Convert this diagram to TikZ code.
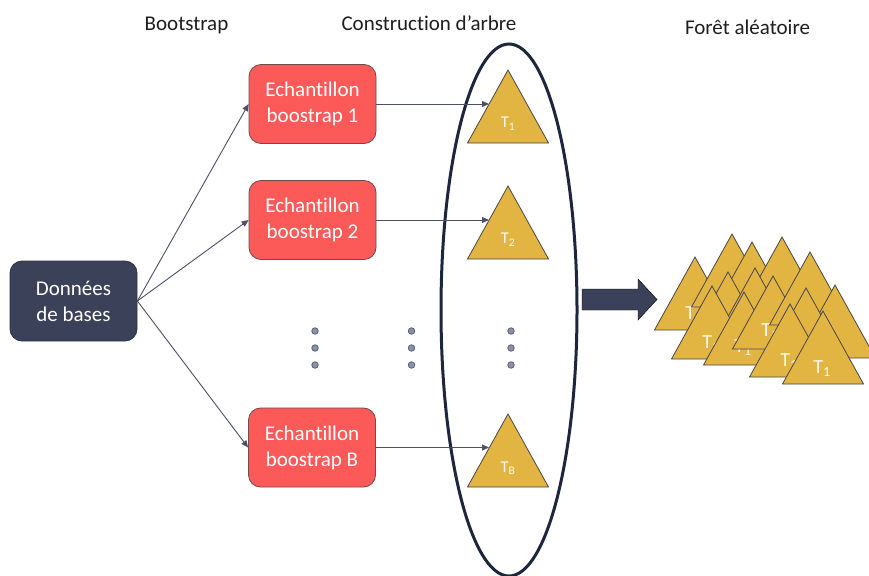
\documentclass[tikz,border=0pt]{standalone}
\usepackage{fontspec}
\setmainfont{Carlito}[Ligatures=NoCommon]
\usetikzlibrary{arrows.meta,calc}
\definecolor{navy}{RGB}{59,65,88}
\definecolor{boxred}{RGB}{251,90,88}
\definecolor{boxredline}{RGB}{115,72,78}
\definecolor{gold}{RGB}{226,180,66}
\definecolor{goldline}{RGB}{72,70,72}
\definecolor{arrowcol}{RGB}{75,80,105}
\definecolor{ellcol}{RGB}{30,38,62}
\definecolor{dotfill}{RGB}{140,145,170}
\definecolor{dotline}{RGB}{90,95,120}
\definecolor{titlecol}{RGB}{30,30,30}
\definecolor{labelcol}{RGB}{255,250,232}
\tikzset{
  databox/.style={draw=navy!80!black, line width=0.8pt, fill=navy, rounded corners=12pt,
    minimum width=127pt, minimum height=80pt, text=white, align=center,
    font=\fontsize{21}{26}\selectfont, inner sep=0pt},
  samplebox/.style={draw=boxredline, line width=0.8pt, fill=boxred, rounded corners=12pt,
    minimum width=127pt, minimum height=79pt, text=white, align=center,
    font=\fontsize{21}{26}\selectfont, inner sep=0pt},
  title/.style={text=titlecol, font=\fontsize{21}{25}\selectfont, anchor=base, inner sep=0pt},
  treestyle/.style={fill=gold, draw=goldline, line width=0.8pt, line join=miter},
  smalllabel/.style={text=labelcol, font=\fontsize{16.5}{20}\selectfont, inner sep=0pt},
  biglabel/.style={text=labelcol, font=\fontsize{20}{24}\selectfont, inner sep=0pt},
  conn/.style={draw=arrowcol, line width=0.9pt, -{Triangle[length=7pt,width=6pt]}},
  dotstyle/.style={circle, fill=dotfill, draw=dotline, line width=0.8pt, minimum size=6.5pt, inner sep=0pt},
  bigarrow/.style={fill=navy},
  ring/.style={draw=ellcol, line width=3pt}
}
\newcommand{\arbre}[3]{%
  \coordinate (#1) at (#2,#3);
  \filldraw[treestyle] (#1) -- ++(-40.5,73) -- ++(81,0) -- cycle;
}
\begin{document}
\begin{tikzpicture}[x=1pt,y=-1pt]
\useasboundingbox (0,0) rectangle (869,575);

% titles
\node[title] (hboot) at (186.5,31) {Bootstrap};
\node[title] (hcons) at (429,31) {Construction d’arbre};
\node[title] (hfor) at (747.5,35) {Forêt aléatoire};

% data box
\node[databox] (data) at (73.5,301) {Données\\de bases};

% sample boxes
\node[samplebox] (s1) at (312.5,104) {Echantillon\\boostrap 1};
\node[samplebox] (s2) at (312.5,220) {Echantillon\\boostrap 2};
\node[samplebox] (sB) at (312,447.5) {Echantillon\\boostrap B};

% ellipse
\draw[ring] (509,310) ellipse [x radius=68pt, y radius=266pt];

% trees in the ellipse
\arbre{t1}{508}{70}
\node[smalllabel] (t1l) at ($(t1)+(0,54)$) {T\textsubscript{1}};
\arbre{t2}{508}{186}
\node[smalllabel] (t2l) at ($(t2)+(0,54)$) {T\textsubscript{2}};
\arbre{tB}{508}{414}
\node[smalllabel] (tBl) at ($(tB)+(0,54)$) {T\textsubscript{B}};

\coordinate (t1in) at ($(t1)+(-19,34)$);
\coordinate (t2in) at ($(t2)+(-19,34)$);
\coordinate (tBin) at ($(tB)+(-19,34)$);

% connectors
\draw[conn] (data.east) -- (s1.west);
\draw[conn] (data.east) -- (s2.west);
\draw[conn] (data.east) -- (sB.west);
\draw[conn] (s1.east) -- (s1.east -| t1in);
\draw[conn] (s2.east) -- (s2.east -| t2in);
\draw[conn] (sB.east) -- (sB.east -| tBin);

% dots
\foreach \col/\xx in {a/315,b/411.5,c/511}{
  \foreach \row/\yy in {1/331,2/348,3/365}{
    \node[dotstyle] (dot\col\row) at (\xx,\yy) {};
  }
}

% big arrow
\filldraw[bigarrow] (582,289) -- (638,289) -- (638,279) -- (657,299.5) -- (638,320) -- (638,310) -- (582,310) -- cycle;

% forest
\arbre{fa}{695}{257}
\node[biglabel] (fal) at ($(fa)+(-1,58)$) {T\textsubscript{1}};
\arbre{fb}{732}{234}
\arbre{fc}{752}{242}
\arbre{fh}{782}{237}
\arbre{fd}{728}{272}
\arbre{ff}{755}{268}
\arbre{fe}{712}{286}
\node[biglabel] (fel) at ($(fe)+(-1,58)$) {T\textsubscript{1}};
\arbre{fg}{744}{292}
\node[biglabel] (fgl) at ($(fg)+(-1,56)$) {T\textsubscript{1}};
\arbre{fj}{773}{276}
\node[biglabel] (fjl) at ($(fj)+(-3,56)$) {T\textsubscript{1}};
\arbre{fi}{810}{252}
\arbre{fk}{835}{285}
\arbre{fl}{806}{288}
\arbre{fm}{790}{304}
\node[biglabel] (fml) at ($(fm)+(-1,58)$) {T\textsubscript{1}};
\arbre{fn}{823}{311}
\node[biglabel] (fnl) at ($(fn)+(-1,58)$) {T\textsubscript{1}};
\end{tikzpicture}
\end{document}
